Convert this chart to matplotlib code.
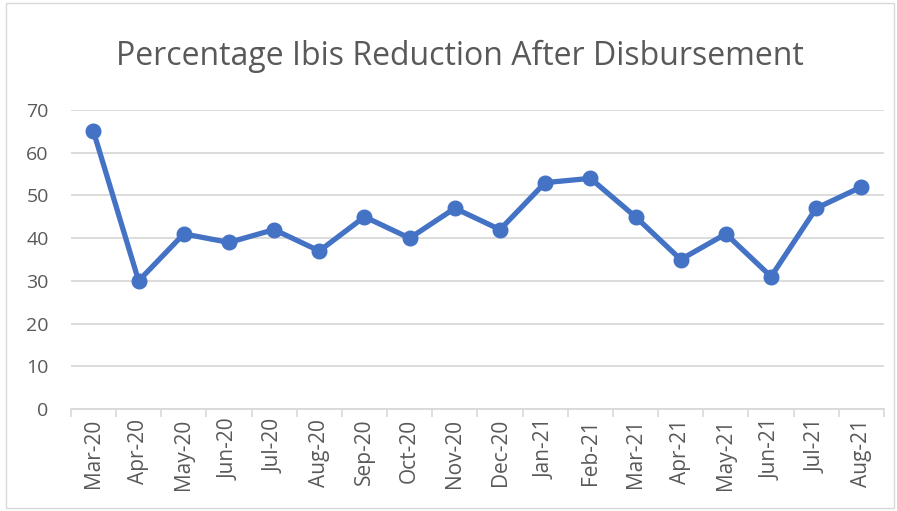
import matplotlib.pyplot as plt
from matplotlib.patches import Rectangle

months = ['Mar-20', 'Apr-20', 'May-20', 'Jun-20', 'Jul-20', 'Aug-20', 'Sep-20',
          'Oct-20', 'Nov-20', 'Dec-20', 'Jan-21', 'Feb-21', 'Mar-21', 'Apr-21',
          'May-21', 'Jun-21', 'Jul-21', 'Aug-21']
reduction = [65, 30, 41, 39, 42, 37, 45, 40, 47, 42, 53, 54, 45, 35, 41, 31, 47, 52]

plt.rcParams['font.family'] = ['Open Sans', 'DejaVu Sans']
text_color = '#595959'
grid_color = '#d9d9d9'
line_color = '#4472c4'

fig = plt.figure(figsize=(8.97, 5.11), dpi=100)
fig.patches.append(Rectangle((0.007, 0.005), 0.99, 0.99, transform=fig.transFigure,
                             fill=False, edgecolor=grid_color, linewidth=1))
ax = fig.add_axes([0.079, 0.1996, 0.9065, 0.5851])

x = list(range(len(months)))
ax.plot(x, reduction, color=line_color, linewidth=3.8, marker='o', markersize=10.5,
        solid_capstyle='round', zorder=3)

ax.set_xlim(-0.5, len(months) - 0.5)
ax.set_ylim(0, 70)
ax.set_yticks(range(0, 71, 10))
ax.yaxis.grid(True, color=grid_color, linewidth=1.3)
ax.set_axisbelow(True)

ax.set_xticks(x)
ax.set_xticklabels(months, rotation=90)
ax.set_xticks([i - 0.5 for i in range(len(months) + 1)], minor=True)
ax.tick_params(axis='x', which='major', length=0, pad=7, labelsize=15, colors=text_color)
ax.tick_params(axis='x', which='minor', length=6, width=1.2, color=grid_color)
ax.tick_params(axis='y', length=0, pad=16, labelsize=14, colors=text_color)

for s in ['top', 'right', 'left']:
    ax.spines[s].set_visible(False)
ax.spines['bottom'].set_color(grid_color)
ax.spines['bottom'].set_linewidth(1.3)

fig.text(0.513, 0.89, 'Percentage Ibis Reduction After Disbursement', ha='center', va='center',
         fontsize=23, color=text_color)

fig.savefig('out.png', dpi=100)
